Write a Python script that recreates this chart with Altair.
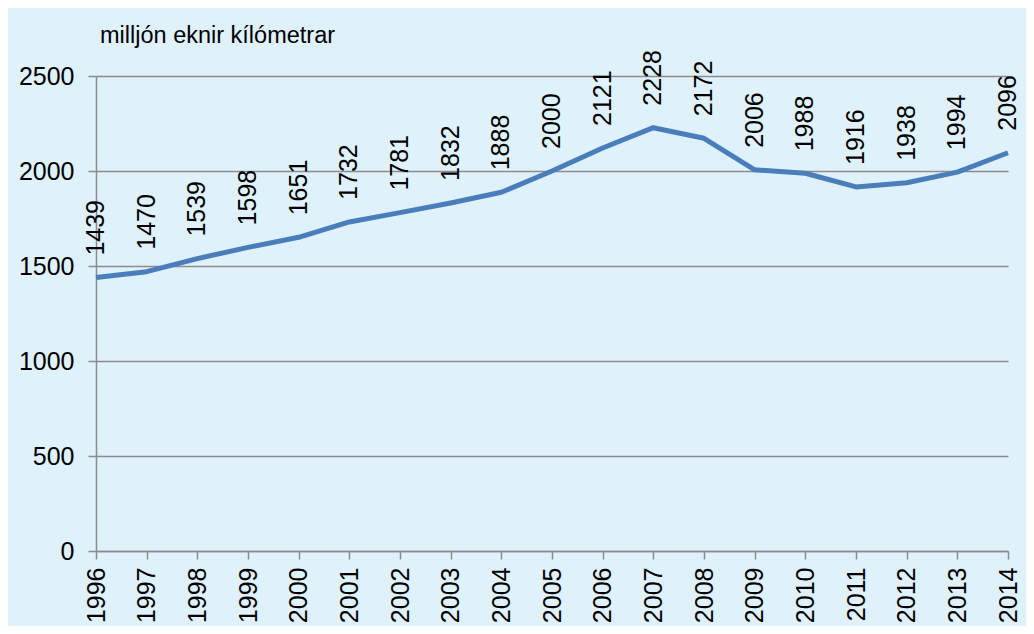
import altair as alt
import pandas as pd

years = [str(y) for y in range(1996, 2015)]
values = [1439, 1470, 1539, 1598, 1651, 1732, 1781, 1832, 1888, 2000,
          2121, 2228, 2172, 2006, 1988, 1916, 1938, 1994, 2096]
y_ticks = [0, 500, 1000, 1500, 2000, 2500]
title_text = "milljón eknir kílómetrar"

df = pd.DataFrame({"year": years, "value": values})

FONT = "Liberation Sans"
GRAY = "#8c8c8c"

x = alt.X("year:O", scale=alt.Scale(type="point", padding=0),
          axis=alt.Axis(title=None, labelAngle=270, labelFontSize=25, labelFont=FONT,
                        labelColor="#000000", grid=False, domainColor=GRAY, domainWidth=1.5,
                        tickColor=GRAY, tickWidth=1.5, tickSize=8, labelPadding=8))
y = alt.Y("value:Q", scale=alt.Scale(domain=[0, 2500], nice=False),
          axis=alt.Axis(title=None, values=y_ticks, format="d", labelFontSize=25, labelFont=FONT,
                        labelColor="#000000", gridColor=GRAY, gridWidth=1.5,
                        domainColor=GRAY, domainWidth=1.5, tickColor=GRAY, tickWidth=1.5,
                        tickSize=8, labelPadding=14))

base = alt.Chart(df)
line = base.mark_line(color="#4a7ebb", strokeWidth=5, strokeJoin="round").encode(x=x, y=y)
labels = base.mark_text(angle=270, align="left", baseline="middle", dx=22,
                        fontSize=25, font=FONT, color="#000000").encode(
    x=x, y=y, text=alt.Text("value:Q"))

title = alt.Chart(pd.DataFrame({"t": [title_text]})).mark_text(
    align="left", baseline="alphabetic", fontSize=23.5, font=FONT, color="#000000"
).encode(x=alt.value(4), y=alt.value(-33), text="t:N")

chart = (line + labels + title).properties(
    width=912, height=475,
    background="#dff1fb",
    padding={"left": 88, "top": 68, "right": 18, "bottom": 75},
    autosize=alt.AutoSizeParams(type="none"),
).configure_view(stroke=None)

chart.save("out.html", embed_options={"renderer": "svg", "actions": False})
